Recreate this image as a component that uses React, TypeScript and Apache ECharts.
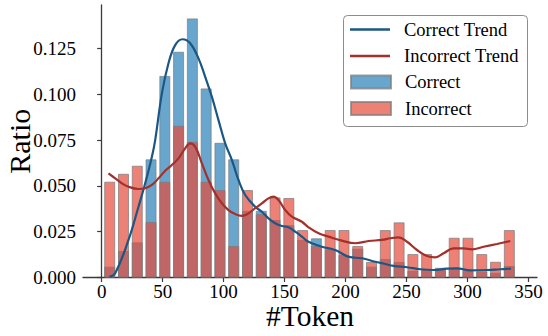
import React, { useEffect, useRef } from "react";
import * as echarts from "echarts";

// Bin centers (#Token) of the histogram
const binCenters = [6.6, 17.9, 29.2, 40.5, 51.8, 63.1, 74.4, 85.7, 97.0, 108.3, 119.6, 130.9, 142.2, 153.5, 164.8, 176.1, 187.4, 198.7, 210.0, 221.3, 232.6, 243.9, 255.2, 266.5, 277.8, 289.1, 300.4, 311.7, 323.0, 334.3];
const correctRatio = [0.0059, 0.0145, 0.0192, 0.0645, 0.110, 0.1232, 0.1414, 0.1032, 0.0735, 0.0645, 0.0364, 0.0364, 0.0314, 0.0286, 0.0205, 0.0214, 0.0154, 0.0123, 0.0157, 0.0059, 0.0101, 0.0085, 0.0037, 0.0041, 0.0053, 0.0050, 0.0037, 0.0032, 0.0026, 0.0063];
const incorrectRatio = [0.0523, 0.0566, 0.0610, 0.0303, 0.0523, 0.0828, 0.0741, 0.0523, 0.0477, 0.0172, 0.0477, 0.0346, 0.0437, 0.0434, 0.0259, 0.0172, 0.0259, 0.0259, 0.0172, 0.0085, 0.0259, 0.0301, 0.0128, 0.0128, 0.0045, 0.0217, 0.0217, 0.0128, 0.0086, 0.0259];

// Trend curves
const correctTrendX = [6.4, 11.1, 22.0, 30.2, 35.7, 41.2, 43.9, 49.4, 54.8, 60.3, 66.3, 72.6, 79.4, 84.9, 90.4, 95.8, 101.3, 106.8, 112.2, 117.7, 125.9, 131.4, 136.8, 142.3, 147.8, 153.2, 158.7, 164.2, 169.6, 180.6, 191.5, 202.5, 213.5, 224.4, 232.0, 239.4, 250.4, 261.3, 272.2, 283.2, 291.4, 302.3, 316.0, 326.9, 335.7];
const correctTrendY = [0.0004, 0.0023, 0.0205, 0.0386, 0.0514, 0.0659, 0.0750, 0.1005, 0.1169, 0.1268, 0.1300, 0.1278, 0.1196, 0.1095, 0.0986, 0.0859, 0.0732, 0.0641, 0.0532, 0.0450, 0.0386, 0.0359, 0.0323, 0.0296, 0.0281, 0.0274, 0.0250, 0.0223, 0.0195, 0.0168, 0.0150, 0.0113, 0.0105, 0.0086, 0.0075, 0.0063, 0.0056, 0.0045, 0.0041, 0.0048, 0.0050, 0.0039, 0.0041, 0.0045, 0.0048];
const incorrectTrendX = [5.6, 11.1, 16.6, 22.0, 30.2, 35.7, 41.2, 46.6, 52.1, 57.6, 63.0, 68.5, 72.6, 76.7, 82.2, 87.6, 93.1, 98.6, 104.0, 109.5, 115.0, 120.4, 125.9, 131.4, 136.8, 140.9, 145.0, 150.5, 156.0, 164.2, 169.6, 177.9, 186.1, 197.0, 208.0, 218.9, 229.9, 236.7, 243.5, 250.4, 258.6, 266.8, 273.6, 280.4, 288.6, 296.8, 303.7, 313.2, 324.2, 335.1];
const incorrectTrendY = [0.0568, 0.0541, 0.0514, 0.0495, 0.0483, 0.0487, 0.0505, 0.0541, 0.0583, 0.0614, 0.0650, 0.0705, 0.0732, 0.0714, 0.0623, 0.0532, 0.0459, 0.0405, 0.0368, 0.0346, 0.0336, 0.0350, 0.0378, 0.0405, 0.0432, 0.0441, 0.0423, 0.0368, 0.0332, 0.0304, 0.0274, 0.0241, 0.0223, 0.0201, 0.0187, 0.0199, 0.0205, 0.0214, 0.0219, 0.0195, 0.0150, 0.0117, 0.0110, 0.0132, 0.0159, 0.0159, 0.0154, 0.0168, 0.0183, 0.0199];

const xTicks = [0, 50, 100, 150, 200, 250, 300, 350];
const yTicks = [0, 0.025, 0.05, 0.075, 0.1, 0.125];

const FONT = "Liberation Serif";
const BLUE_LINE = "#1c5784";
const RED_LINE = "#a3302a";

export default function App() {
  const ref = useRef<HTMLDivElement>(null);
  useEffect(() => {
    if (!ref.current) return;
    const chart = echarts.init(ref.current, null, { renderer: "svg" });
    const axisLine = { show: true, lineStyle: { color: "#3a3a3a", width: 1.3 } };
    const legendText = { fontFamily: FONT, fontSize: 18.5, color: "#000", padding: [0, 0, 0, 9] };
    const tickLabel = { fontFamily: FONT, fontSize: 19, color: "#000", fontWeight: "normal" };
    chart.setOption({
      animation: false,
      backgroundColor: "#fff",
      textStyle: { fontFamily: FONT, color: "#000" },
      grid: { left: 83, right: 11, top: 5, bottom: 58.5, outerBoundsMode: "none", containLabel: false },
      xAxis: {
        type: "value",
        min: -15.3,
        max: 357,
        name: "#Token",
        nameLocation: "middle",
        nameGap: 23,
        nameMoveOverlap: false,
        nameTextStyle: { fontFamily: FONT, fontSize: 29.5, color: "#000" },
        axisLine,
        axisTick: { show: true, length: 4.5, lineStyle: { color: "#3a3a3a", width: 1.2 }, customValues: xTicks },
        axisLabel: { ...tickLabel, margin: 4, customValues: xTicks },
        splitLine: { show: false },
      },
      yAxis: {
        type: "value",
        min: 0,
        max: 0.1487,
        name: "Ratio",
        nameLocation: "middle",
        nameGap: 49,
        nameMoveOverlap: false,
        nameTextStyle: { fontFamily: FONT, fontSize: 30, color: "#000" },
        axisLine,
        axisTick: { show: true, length: 4.5, lineStyle: { color: "#3a3a3a", width: 1.2 }, customValues: yTicks },
        axisLabel: {
          ...tickLabel,
          margin: 7,
          customValues: yTicks,
          formatter: (v: number) => v.toFixed(3),
        },
        splitLine: { show: false },
      },
      graphic: [
        {
          type: "rect",
          z: 100,
          shape: { x: 343.5, y: 15.5, width: 184, height: 111, r: 4 },
          style: { fill: "#fff", stroke: "#8c8c8c", lineWidth: 1 },
        },
      ],
      legend: [
        {
          orient: "vertical",
          left: 350,
          top: 20,
          padding: 0,
          itemGap: 7.5,
          itemWidth: 40,
          itemHeight: 2.5,
          z: 110,
          textStyle: legendText,
          data: [
            { name: "Correct Trend", icon: "rect" },
            { name: "Incorrect Trend", icon: "rect" },
          ],
        },
        {
          orient: "vertical",
          left: 350,
          top: 72.5,
          padding: 0,
          itemGap: 7.5,
          itemWidth: 40,
          itemHeight: 13,
          z: 110,
          textStyle: legendText,
          data: [
            { name: "Correct", icon: "rect" },
            { name: "Incorrect", icon: "rect" },
          ],
        },
      ],
      series: [
        {
          name: "Correct",
          type: "bar",
          barWidth: 11,
          barGap: "-100%",
          itemStyle: { color: "#2980b9", opacity: 0.7, borderColor: "#7a7a7a", borderWidth: 1 },
          data: binCenters.map((c, i) => [c, correctRatio[i]]),
          z: 2,
        },
        {
          name: "Incorrect",
          type: "bar",
          barWidth: 11,
          barGap: "-100%",
          itemStyle: { color: "#e74c3c", opacity: 0.7, borderColor: "#7a7a7a", borderWidth: 1 },
          data: binCenters.map((c, i) => [c, incorrectRatio[i]]),
          z: 3,
        },
        {
          name: "Correct Trend",
          type: "line",
          symbol: "none",
          smooth: 0.4,
          lineStyle: { color: BLUE_LINE, width: 2.2 },
          itemStyle: { color: BLUE_LINE },
          data: correctTrendX.map((x, i) => [x, correctTrendY[i]]),
          z: 4,
        },
        {
          name: "Incorrect Trend",
          type: "line",
          symbol: "none",
          smooth: 0.4,
          lineStyle: { color: RED_LINE, width: 2.2 },
          itemStyle: { color: RED_LINE },
          data: incorrectTrendX.map((x, i) => [x, incorrectTrendY[i]]),
          z: 5,
        },
      ],
    });
    return () => chart.dispose();
  }, []);
  return (
    <div
      ref={ref}
      style={{ position: "fixed", left: 0, top: 0, width: 548, height: 336, background: "#fff" }}
    />
  );
}
